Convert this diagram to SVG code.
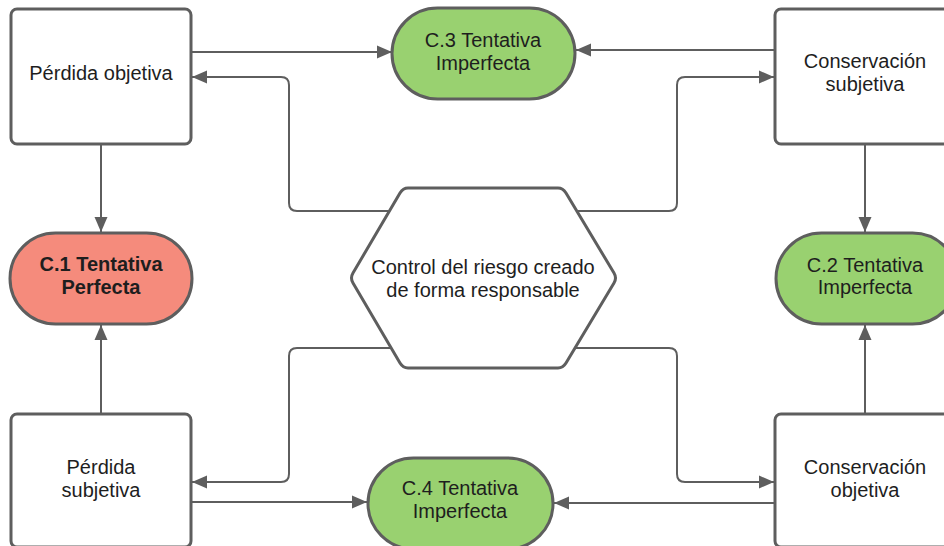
<svg xmlns="http://www.w3.org/2000/svg" width="944" height="546" viewBox="0 0 944 546">
<style>
.box{fill:#ffffff;stroke:#5e5e5e;stroke-width:3}
.green{fill:#99d170;stroke:#5e5e5e;stroke-width:3}
.red{fill:#f58b7c;stroke:#5e5e5e;stroke-width:3}
.conn{fill:none;stroke:#5e5e5e;stroke-width:2}
text{font-family:"Liberation Sans",Arial,sans-serif;font-size:20px;fill:#1e1e1e;text-anchor:middle}
.bold{font-weight:bold}
</style>
<defs>
<marker id="arr" markerUnits="userSpaceOnUse" markerWidth="16" markerHeight="16" viewBox="0 0 16 16" refX="15" refY="8" orient="auto">
<path d="M0,1.5 L15,8 L0,14.5 Z" fill="#5e5e5e"/>
</marker>
</defs>
<g id="connectors">
<path class="conn" d="M191,52 H392" marker-end="url(#arr)"/>
<path class="conn" d="M389,211 H297 Q289,211 289,203 V85 Q289,77 281,77 H192" marker-end="url(#arr)"/>
<path class="conn" d="M775,50 H576" marker-end="url(#arr)"/>
<path class="conn" d="M576,211 H669 Q677,211 677,203 V85 Q677,77 685,77 H774" marker-end="url(#arr)"/>
<path class="conn" d="M101,144 V232" marker-end="url(#arr)"/>
<path class="conn" d="M865,144 V232" marker-end="url(#arr)"/>
<path class="conn" d="M101,414 V325" marker-end="url(#arr)"/>
<path class="conn" d="M865,414 V325" marker-end="url(#arr)"/>
<path class="conn" d="M390,348 H297 Q289,348 289,356 V474 Q289,482 281,482 H192" marker-end="url(#arr)"/>
<path class="conn" d="M191,502 H367" marker-end="url(#arr)"/>
<path class="conn" d="M574,348 H669 Q677,348 677,356 V474 Q677,482 685,482 H774" marker-end="url(#arr)"/>
<path class="conn" d="M775,503 H554" marker-end="url(#arr)"/>
</g>
<g id="perdida-objetiva">
<rect class="box" x="11" y="9" width="180" height="135" rx="6"/>
<text x="101" y="80">Pérdida objetiva</text>
</g>
<g id="conservacion-subjetiva">
<rect class="box" x="775" y="9" width="180" height="135" rx="6"/>
<text x="865" y="68">Conservación</text>
<text x="865" y="91">subjetiva</text>
</g>
<g id="c3">
<rect class="green" x="392" y="8" width="183" height="91" rx="45.5"/>
<text x="483" y="47">C.3 Tentativa</text>
<text x="483" y="70">Imperfecta</text>
</g>
<g id="c1">
<rect class="red" x="10" y="233" width="182" height="91" rx="45.5"/>
<text class="bold" x="101" y="271">C.1 Tentativa</text>
<text class="bold" x="101" y="294">Perfecta</text>
</g>
<g id="c2">
<rect class="green" x="776" y="233" width="182" height="91" rx="45.5"/>
<text x="865" y="272">C.2 Tentativa</text>
<text x="865" y="294">Imperfecta</text>
</g>
<g id="control">
<path class="box" stroke-linejoin="round" d="M408,188 H558 Q563,188 566,193 L614,273 Q617,278 614,283 L566,363 Q563,368 558,368 H408 Q403,368 400,363 L353,283 Q350,278 353,273 L400,193 Q403,188 408,188 Z"/>
<text x="483" y="274">Control del riesgo creado</text>
<text x="483" y="297">de forma responsable</text>
</g>
<g id="perdida-subjetiva">
<rect class="box" x="11" y="414" width="180" height="133" rx="6"/>
<text x="101" y="474">Pérdida</text>
<text x="101" y="497">subjetiva</text>
</g>
<g id="c4">
<rect class="green" x="368" y="458" width="185" height="91" rx="45.5"/>
<text x="460" y="495">C.4 Tentativa</text>
<text x="460" y="518">Imperfecta</text>
</g>
<g id="conservacion-objetiva">
<rect class="box" x="775" y="414" width="180" height="133" rx="6"/>
<text x="865" y="474">Conservación</text>
<text x="865" y="497">objetiva</text>
</g>
</svg>
